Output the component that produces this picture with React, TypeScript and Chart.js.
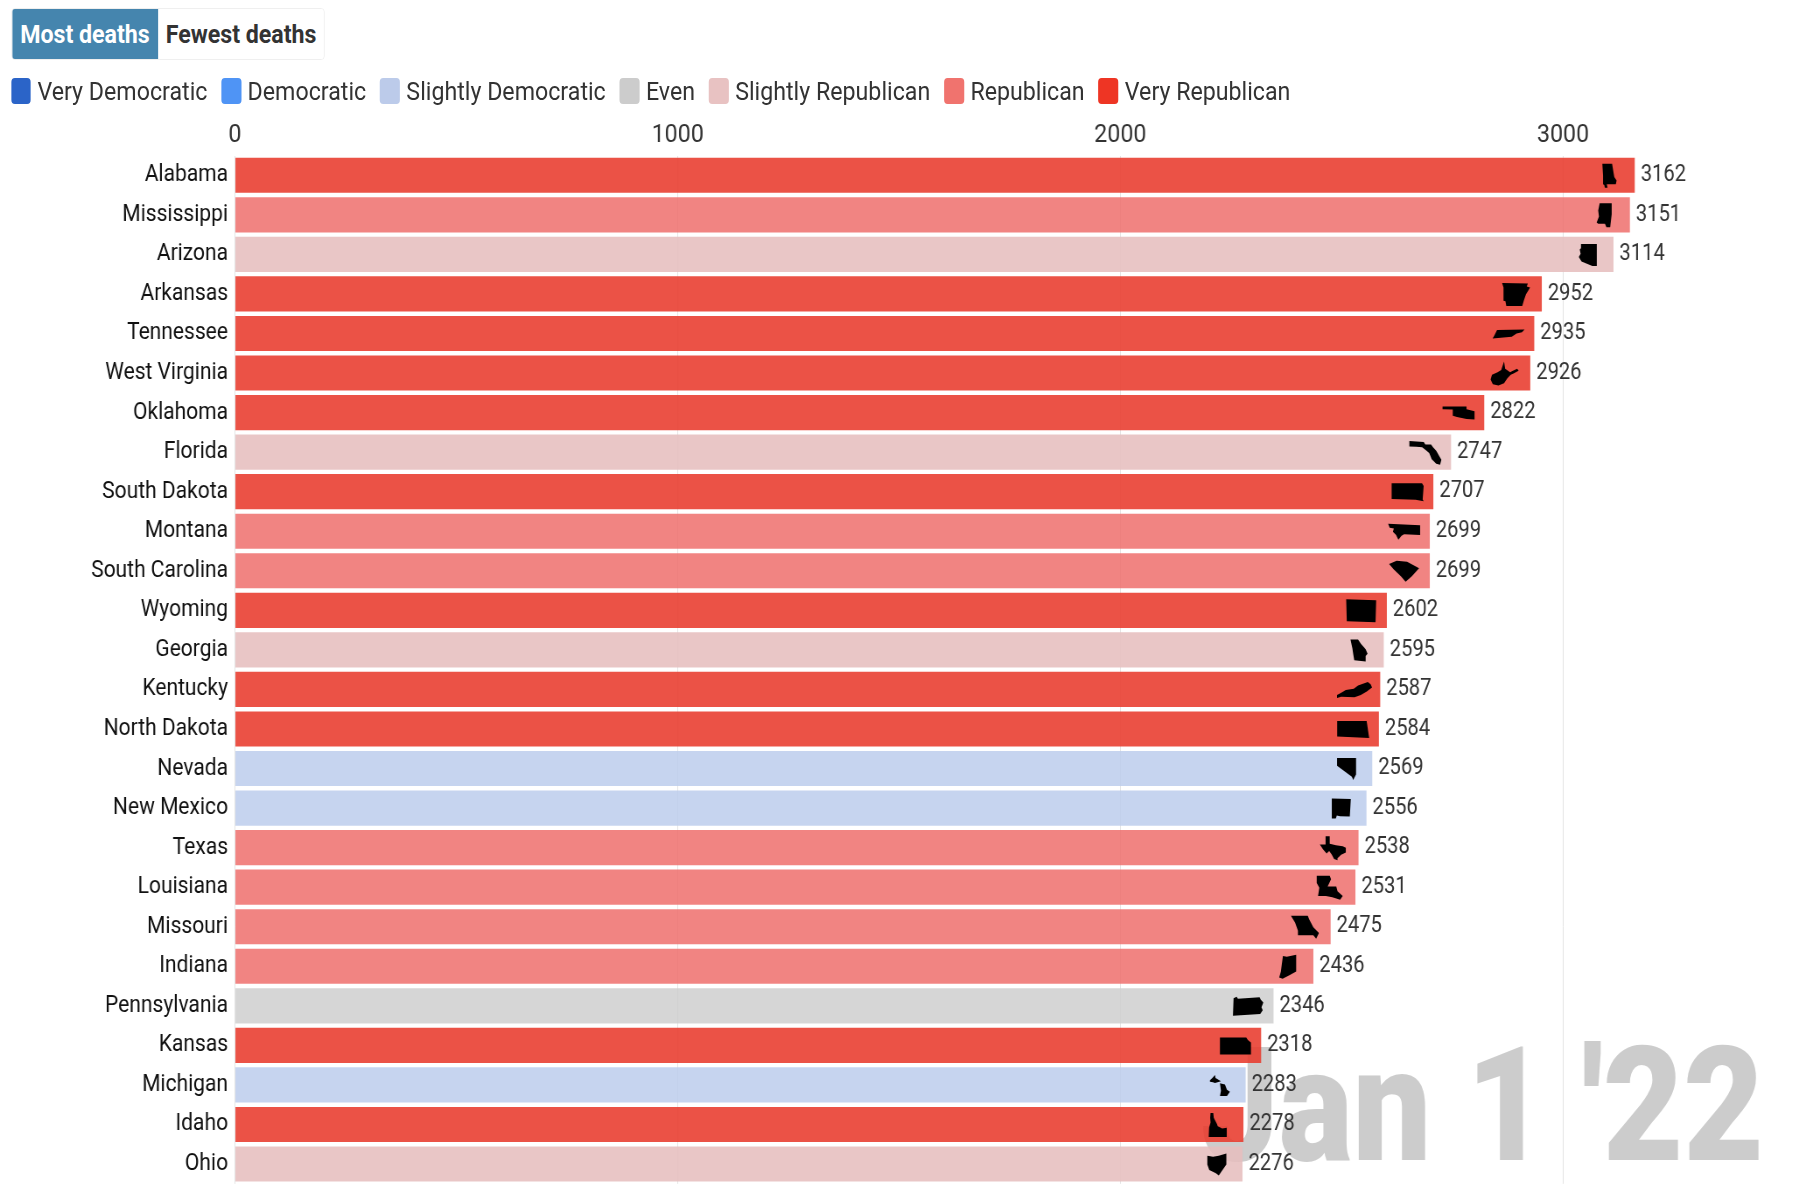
import React, { useEffect, useRef } from "react";
import { Chart, registerables } from "chart.js";

Chart.register(...registerables);

const states = ["Alabama","Mississippi","Arizona","Arkansas","Tennessee","West Virginia","Oklahoma","Florida","South Dakota","Montana","South Carolina","Wyoming","Georgia","Kentucky","North Dakota","Nevada","New Mexico","Texas","Louisiana","Missouri","Indiana","Pennsylvania","Kansas","Michigan","Idaho","Ohio"];
const deaths = [3162,3151,3114,2952,2935,2926,2822,2747,2707,2699,2699,2602,2595,2587,2584,2569,2556,2538,2531,2475,2436,2346,2318,2283,2278,2276];
const leanings = ["Very Republican","Republican","Slightly Republican","Very Republican","Very Republican","Very Republican","Very Republican","Slightly Republican","Very Republican","Republican","Republican","Very Republican","Slightly Republican","Very Republican","Very Republican","Slightly Democratic","Slightly Democratic","Republican","Republican","Republican","Republican","Even","Very Republican","Slightly Democratic","Very Republican","Slightly Republican"];
const legendNames = ["Very Democratic","Democratic","Slightly Democratic","Even","Slightly Republican","Republican","Very Republican"];
const legendColors = ["#2B64C8","#4F94F5","#BCCBEA","#CCCCCC","#E8C2C2","#F0736E","#EE3524"];
const barColors = ["rgba(43,100,200,.85)","rgba(79,148,245,.85)","rgba(188,205,236,.85)","rgba(204,204,204,.8)","rgba(230,190,190,.87)","rgba(238,110,108,.85)","rgba(232,56,42,.87)"];
const xTicks = [0,1000,2000,3000];
const toggleLabels = ["Most deaths","Fewest deaths"];
const dateLabel = "Jan 1 '22";

const S = 0.875; // the picture is narrowed horizontally
const W = 1800 / S;
const H = 1191;
const ICON_OFFSET = 25.7;

// silhouettes: [width, height, polygons in a 0..100 box]
const icons: Record<string, [number, number, number[][][]]> = {
  Alabama: [15,24,[[[5,0],[70,0],[85,55],[100,70],[95,85],[35,85],[40,100],[22,100],[18,88],[10,85],[10,50]]]],
  Mississippi: [15,24,[[[20,0],[100,0],[100,45],[90,100],[65,100],[55,85],[10,85],[0,80],[15,55],[10,30]]]],
  Arizona: [18,22,[[[12,0],[100,0],[100,100],[75,100],[15,80],[0,60],[10,45],[5,25],[12,20]]]],
  Arkansas: [28,23,[[[0,0],[92,3],[88,15],[100,20],[85,50],[78,75],[72,100],[15,100],[12,80],[5,78],[5,20]]]],
  Tennessee: [32,9,[[[14,5],[100,0],[92,30],[75,45],[60,80],[0,100],[6,65]]]],
  "West Virginia": [28,24,[[[48,0],[52,30],[70,45],[76,40],[95,30],[100,38],[82,50],[72,55],[60,70],[48,90],[28,100],[8,95],[0,75],[5,55],[25,45],[38,35]]]],
  Oklahoma: [32,13,[[[0,0],[75,0],[75,20],[100,35],[100,100],[75,95],[45,80],[32,70],[32,22],[0,20]]]],
  Florida: [32,24,[[[0,2],[45,6],[50,16],[68,16],[74,28],[84,42],[100,80],[96,100],[84,96],[70,78],[62,52],[50,38],[40,28],[22,26],[0,24]]]],
  "South Dakota": [32,18,[[[0,0],[95,0],[100,15],[97,90],[100,100],[75,92],[0,88]]]],
  Montana: [32,16,[[[0,0],[100,10],[100,70],[50,65],[42,75],[32,100],[25,70],[15,50],[18,30],[5,25]]]],
  "South Carolina": [30,21,[[[0,15],[25,0],[60,5],[100,35],[75,75],[55,100],[40,75],[15,40]]]],
  Wyoming: [30,23,[[[0,0],[100,4],[98,100],[2,95]]]],
  Georgia: [19,22,[[[10,0],[50,0],[65,20],[90,45],[100,65],[90,75],[90,100],[30,95],[25,70],[20,40]]]],
  Kentucky: [35,16,[[[0,100],[0,82],[12,68],[25,50],[48,42],[60,22],[78,8],[88,0],[96,15],[100,35],[85,60],[68,82],[50,95],[12,92]]]],
  "North Dakota": [32,17,[[[0,0],[92,0],[100,100],[0,92]]]],
  Nevada: [19,22,[[[0,0],[100,0],[100,75],[85,100],[78,85],[0,35]]]],
  "New Mexico": [20,20,[[[5,0],[100,2],[95,90],[45,88],[30,85],[25,100],[5,100]]]],
  Texas: [26,24,[[[22,0],[38,0],[38,32],[62,38],[88,42],[100,48],[100,68],[82,78],[68,92],[68,100],[55,95],[45,75],[36,62],[26,72],[12,55],[0,35],[22,35]]]],
  Louisiana: [26,24,[[[0,0],[50,0],[55,15],[42,45],[75,45],[80,65],[100,85],[90,100],[60,90],[35,85],[5,85],[10,50],[0,30]]]],
  Missouri: [28,23,[[[0,0],[60,0],[65,15],[80,50],[100,75],[90,100],[80,85],[25,85],[25,65],[15,30]]]],
  Indiana: [17,24,[[[22,5],[45,8],[100,0],[100,70],[60,85],[20,100],[0,95],[10,70]]]],
  Pennsylvania: [31,19,[[[4,8],[14,0],[18,10],[88,2],[92,15],[100,30],[94,55],[98,70],[90,90],[2,100]]]],
  Kansas: [31,17,[[[0,0],[85,0],[90,15],[100,30],[100,100],[0,100]]]],
  Michigan: [20,21,[[[0,25],[12,15],[25,0],[28,15],[55,30],[25,38],[15,35],[0,32]],[[50,40],[75,45],[85,70],[100,80],[85,100],[50,100],[55,75]]]],
  Idaho: [18,24,[[[10,0],[25,0],[28,20],[45,45],[50,55],[75,65],[100,62],[100,100],[0,100],[2,60],[10,40],[8,20]]]],
  Ohio: [19,22,[[[0,10],[30,15],[60,10],[100,0],[100,50],[80,75],[60,100],[45,90],[10,75],[0,50]]]],
};

const datePlugin = {
  id: "dateStamp",
  beforeDatasetsDraw(chart: any) {
    const { ctx } = chart;
    ctx.save();
    ctx.font = "900 159px Roboto";
    ctx.fillStyle = "#CCCCCC";
    ctx.textAlign = "right";
    ctx.textBaseline = "alphabetic";
    ctx.fillText(dateLabel, 1764 / S, 1160);
    ctx.restore();
  },
};

const barExtras = {
  id: "barExtras",
  afterDatasetsDraw(chart: any) {
    const { ctx } = chart;
    const meta = chart.getDatasetMeta(0);
    ctx.save();
    meta.data.forEach((bar: any, i: number) => {
      ctx.font = "400 23px Roboto";
      ctx.fillStyle = "#333333";
      ctx.textAlign = "left";
      ctx.textBaseline = "middle";
      ctx.fillText(String(deaths[i]), bar.x + 6 / S, bar.y);
      const icon = icons[states[i]];
      if (icon) {
        const [w, h, polys] = icon;
        const cx = bar.x - ICON_OFFSET / S;
        const cy = bar.y + 0.5;
        ctx.fillStyle = "#000000";
        polys.forEach((poly) => {
          ctx.beginPath();
          poly.forEach(([px, py], k) => {
            const x = cx + ((px / 100 - 0.5) * w) / S;
            const y = cy + (py / 100 - 0.5) * h;
            if (k === 0) ctx.moveTo(x, y);
            else ctx.lineTo(x, y);
          });
          ctx.closePath();
          ctx.fill();
        });
      }
    });
    ctx.restore();
  },
};

export default function App() {
  const ref = useRef<HTMLCanvasElement>(null);
  useEffect(() => {
    document.body.style.margin = "0";
    document.body.style.overflow = "hidden";
    const chart: any = new Chart(ref.current as HTMLCanvasElement, {
      type: "bar",
      data: {
        labels: states,
        datasets: [
          {
            data: deaths,
            backgroundColor: leanings.map((l) => barColors[legendNames.indexOf(l)]),
            categoryPercentage: 0.89,
            barPercentage: 1,
          },
        ],
      },
      options: {
        indexAxis: "y",
        responsive: false,
        animation: false,
        devicePixelRatio: 1,
        layout: { autoPadding: false, padding: { left: 0, top: 0, right: 15.5 / S, bottom: 7.2 } },
        plugins: { legend: { display: false }, tooltip: { enabled: false } },
        scales: {
          x: {
            position: "top",
            min: 0,
            max: 3500,
            afterBuildTicks(axis: any) {
              axis.ticks = xTicks.map((value) => ({ value }));
            },
            afterFit(axis: any) {
              axis.height = 155.5;
              axis.paddingLeft = 0;
              axis.paddingRight = 0;
            },
            grid: { color: "#E4E4E4", lineWidth: 1, drawTicks: false },
            border: { display: false },
            ticks: { color: "#333333", font: { family: "Roboto", size: 26.5 }, padding: 4, maxRotation: 0, includeBounds: false, callback: (v: any) => String(v) },
          },
          y: {
            afterFit(axis: any) {
              axis.width = 235 / S;
              axis.paddingTop = 0;
              axis.paddingBottom = 0;
            },
            grid: { display: false, drawTicks: false },
            border: { display: false },
            ticks: { color: "#111111", font: { family: "Roboto", size: 24 }, padding: 7 / S, autoSkip: false },
          },
        },
      },
      plugins: [datePlugin, barExtras],
    } as any);
    return () => chart.destroy();
  }, []);

  const txt: React.CSSProperties = { fontFamily: "Roboto", fontSize: 26.5, lineHeight: "26px", color: "#333" };
  return (
    <div style={{ position: "absolute", left: 0, top: 0, width: W, height: H, transform: `scaleX(${S})`, transformOrigin: "0 0", background: "#fff" }}>
      <canvas ref={ref} width={Math.round(W)} height={H} style={{ position: "absolute", left: 0, top: 0 }} />
      <div style={{ position: "absolute", left: 11 / S, top: 8, height: 52, width: 314 / S, display: "flex", border: "1px solid #eee", borderRadius: 4, boxSizing: "border-box", overflow: "hidden", background: "#fff", ...txt }}>
        {toggleLabels.map((t, i) => (
          <div key={t} style={{ width: (i === 0 ? 147 : 167) / S, display: "flex", alignItems: "center", justifyContent: "center", fontWeight: 700, background: i === 0 ? "#4585AE" : "#fff", color: i === 0 ? "#fff" : "#333" }}>
            {t}
          </div>
        ))}
      </div>
      <div style={{ position: "absolute", left: 11 / S, top: 78, display: "flex", gap: 13.7 / S, whiteSpace: "nowrap", ...txt }}>
        {legendNames.map((n, i) => (
          <div key={n} style={{ display: "flex", alignItems: "center", gap: 6.5 / S }}>
            <span style={{ display: "inline-block", width: 20 / S, height: 26, borderRadius: 4, background: legendColors[i] }} />
            <span>{n}</span>
          </div>
        ))}
      </div>
    </div>
  );
}
